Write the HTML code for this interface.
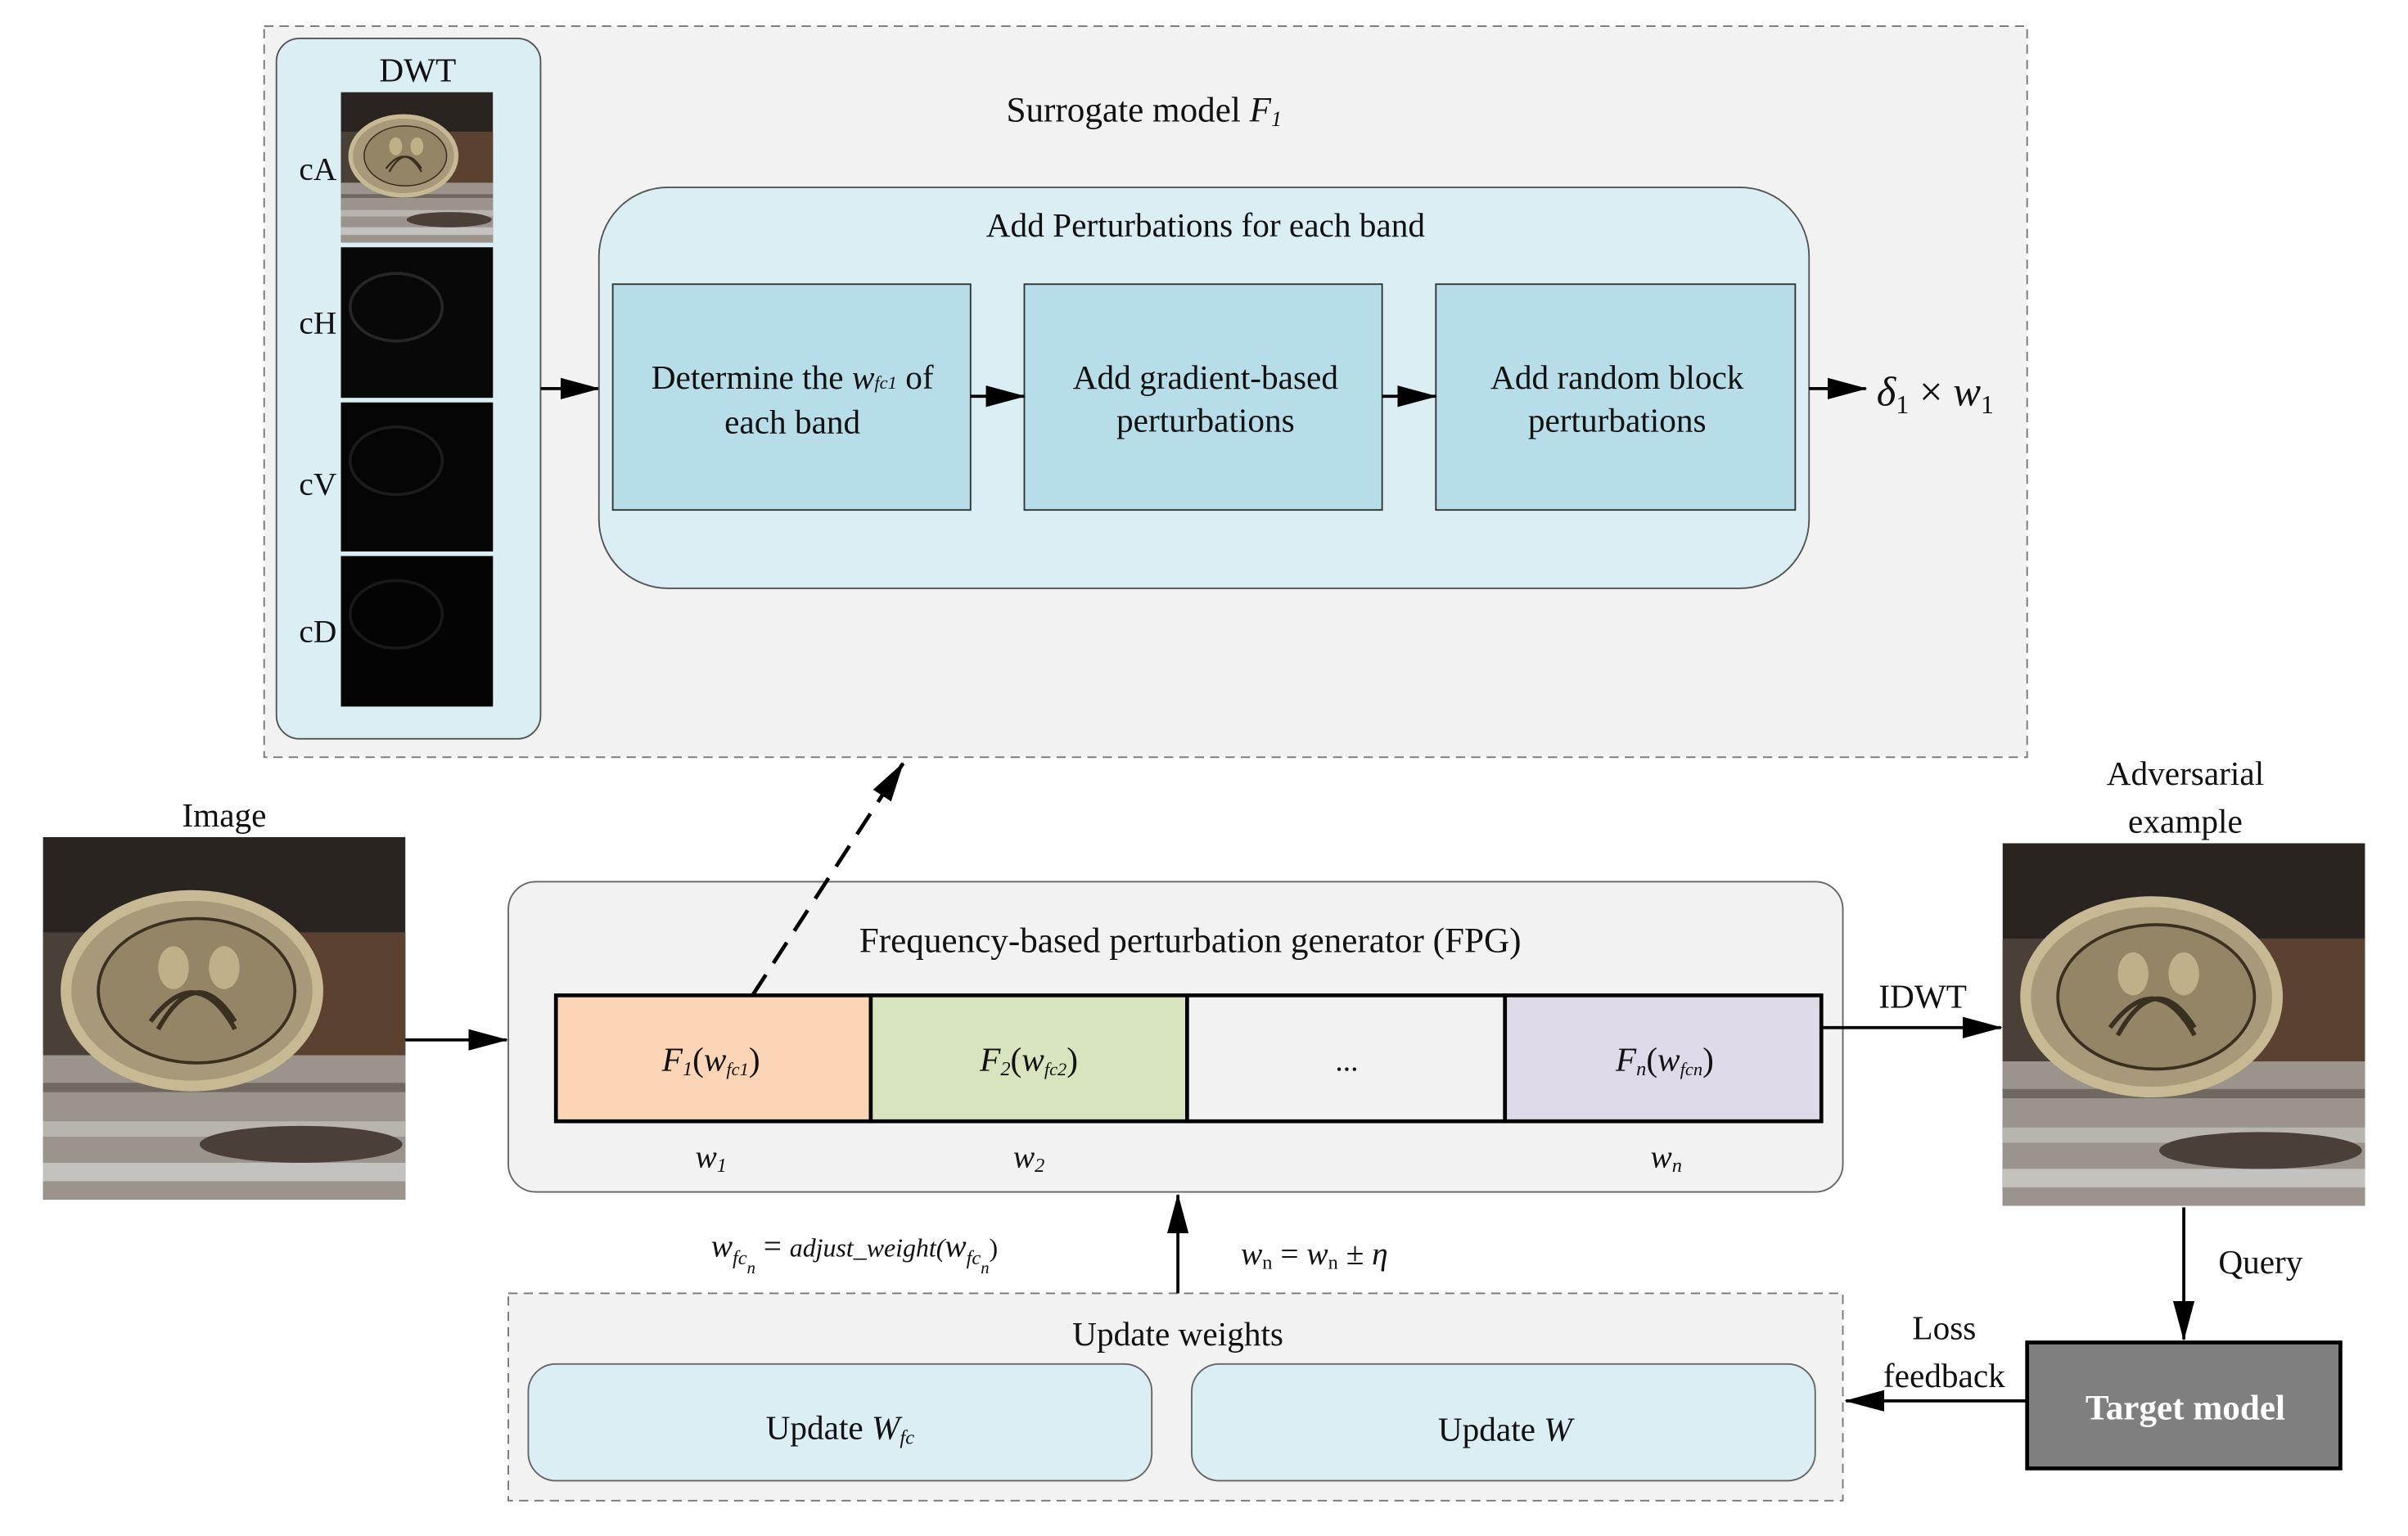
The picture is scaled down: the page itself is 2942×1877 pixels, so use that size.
<!DOCTYPE html>
<html><head><meta charset="utf-8"><style>
html,body{margin:0;padding:0;background:#fff}
svg{display:block}
text{font-family:"Liberation Serif",serif;fill:#111}
</style></head><body>
<svg width="2942" height="1877" viewBox="0 0 1568 1000" preserveAspectRatio="none" xmlns="http://www.w3.org/2000/svg">
<defs>
<marker id="ahb" markerWidth="26" markerHeight="14" refX="25" refY="7" orient="auto" markerUnits="userSpaceOnUse">
<path d="M0,0 L26,7 L0,14 Z" fill="#000"/></marker>
<clipPath id="pc"><rect x="0" y="0" width="236" height="236"/></clipPath>
<g id="photo" clip-path="url(#pc)">
<rect x="0" y="0" width="236" height="236" fill="#2a2420"/>
<rect x="0" y="62" width="236" height="80" fill="#4a4038"/>
<rect x="140" y="62" width="96" height="80" fill="#5a4130"/>
<rect x="0" y="142" width="236" height="94" fill="#9a948c"/>
<rect x="0" y="160" width="236" height="6" fill="#6e6860"/>
<rect x="0" y="185" width="236" height="10" fill="#b8b4ae"/>
<rect x="0" y="212" width="236" height="12" fill="#c4c2be"/>
<ellipse cx="168" cy="200" rx="66" ry="12" fill="#4a4038"/>
<ellipse cx="97" cy="100" rx="82" ry="62" fill="#a8997a" stroke="#c6b993" stroke-width="7"/>
<ellipse cx="100" cy="100" rx="64" ry="47" fill="#948566" stroke="#3a3020" stroke-width="2"/>
<path d="M70,120 Q100,80 125,125 M125,120 Q100,80 75,125" fill="none" stroke="#3a3020" stroke-width="3"/>
<ellipse cx="85" cy="85" rx="10" ry="14" fill="#c0b08a"/>
<ellipse cx="118" cy="85" rx="10" ry="14" fill="#c0b08a"/>
</g>
</defs>

<rect x="172" y="17" width="1148" height="476" fill="#f2f2f2" stroke="#777" stroke-dasharray="6,4"/>
<rect x="180" y="25" width="172" height="456" rx="15" fill="#daeef3" stroke="#555"/>
<text x="272" y="53" font-size="22" text-anchor="middle">DWT</text>
<g transform="translate(222,60) scale(0.4195,0.415)"><use href="#photo"/></g>
<rect x="222" y="161" width="99" height="98" fill="#080808"/>
<ellipse cx="258" cy="200" rx="30" ry="22" fill="none" stroke="#262626" stroke-width="2"/>
<rect x="222" y="262" width="99" height="97" fill="#050505"/>
<ellipse cx="258" cy="300" rx="30" ry="22" fill="none" stroke="#1c1c1c" stroke-width="2"/>
<rect x="222" y="362" width="99" height="98" fill="#040404"/>
<ellipse cx="258" cy="400" rx="30" ry="22" fill="none" stroke="#181818" stroke-width="2"/>
<text x="207" y="117" font-size="21" text-anchor="middle">cA</text>
<text x="207" y="217" font-size="21" text-anchor="middle">cH</text>
<text x="207" y="322" font-size="21" text-anchor="middle">cV</text>
<text x="207" y="418" font-size="21" text-anchor="middle">cD</text>
<text x="745" y="79" font-size="23" text-anchor="middle">Surrogate model <tspan font-style="italic">F</tspan><tspan font-style="italic" font-size="14" dy="3">1</tspan></text>
<line x1="352" y1="253" x2="390" y2="253" stroke="#000" stroke-width="2" marker-end="url(#ahb)"/>
<rect x="390" y="122" width="788" height="261" rx="45" fill="#daeef3" stroke="#555"/>
<text x="785" y="154" font-size="22" text-anchor="middle">Add Perturbations for each band</text>
<rect x="399" y="185" width="233" height="147" fill="#b7dde8" stroke="#333"/>
<rect x="667" y="185" width="233" height="147" fill="#b7dde8" stroke="#333"/>
<rect x="935" y="185" width="234" height="147" fill="#b7dde8" stroke="#333"/>
<text x="516" y="253" font-size="22" text-anchor="middle">Determine the <tspan font-style="italic">w</tspan><tspan font-style="italic" font-size="12">fc1</tspan> of</text>
<text x="516" y="282" font-size="22" text-anchor="middle">each band</text>
<text x="785" y="253" font-size="22" text-anchor="middle">Add gradient-based</text>
<text x="785" y="281" font-size="22" text-anchor="middle">perturbations</text>
<text x="1053" y="253" font-size="22" text-anchor="middle">Add random block</text>
<text x="1053" y="281" font-size="22" text-anchor="middle">perturbations</text>
<line x1="632" y1="258" x2="667" y2="258" stroke="#000" stroke-width="2" marker-end="url(#ahb)"/>
<line x1="900" y1="258" x2="935" y2="258" stroke="#000" stroke-width="2" marker-end="url(#ahb)"/>
<line x1="1178" y1="253" x2="1215" y2="253" stroke="#000" stroke-width="2" marker-end="url(#ahb)"/>
<text x="1222" y="264" font-size="27" font-style="italic">δ<tspan font-style="normal" font-size="17" dy="5">1</tspan><tspan dy="-5" font-style="normal"> × </tspan>w<tspan font-style="normal" font-size="17" dy="5">1</tspan></text>

<text x="146" y="538" font-size="22" text-anchor="middle">Image</text>
<g transform="translate(28,545)"><use href="#photo"/></g>
<line x1="264" y1="677" x2="330" y2="677" stroke="#000" stroke-width="2" marker-end="url(#ahb)"/>

<rect x="331" y="574" width="869" height="202" rx="18" fill="#f2f2f2" stroke="#666"/>
<text x="775" y="620" font-size="23" text-anchor="middle">Frequency-based perturbation generator (FPG)</text>
<rect x="362" y="648" width="205" height="82" fill="#fbd5b5" stroke="#000" stroke-width="2.5"/>
<rect x="567" y="648" width="206" height="82" fill="#d7e4bd" stroke="#000" stroke-width="2.5"/>
<rect x="773" y="648" width="207" height="82" fill="#f2f2f2" stroke="#000" stroke-width="2.5"/>
<rect x="980" y="648" width="206" height="82" fill="#dfdaea" stroke="#000" stroke-width="2.5"/>
<text x="463" y="697" font-size="22" text-anchor="middle" font-style="italic">F<tspan font-size="13" dy="3">1</tspan><tspan dy="-3" font-style="normal">(</tspan>w<tspan font-size="12" dy="3">fc1</tspan><tspan dy="-3" font-style="normal">)</tspan></text>
<text x="670" y="697" font-size="22" text-anchor="middle" font-style="italic">F<tspan font-size="13" dy="3">2</tspan><tspan dy="-3" font-style="normal">(</tspan>w<tspan font-size="12" dy="3">fc2</tspan><tspan dy="-3" font-style="normal">)</tspan></text>
<text x="877" y="697" font-size="20" text-anchor="middle">...</text>
<text x="1084" y="697" font-size="22" text-anchor="middle" font-style="italic">F<tspan font-size="13" dy="3">n</tspan><tspan dy="-3" font-style="normal">(</tspan>w<tspan font-size="12" dy="3">fcn</tspan><tspan dy="-3" font-style="normal">)</tspan></text>
<text x="463" y="760" font-size="21" font-style="italic" text-anchor="middle">w<tspan font-size="13" dy="3">1</tspan></text>
<text x="670" y="760" font-size="21" font-style="italic" text-anchor="middle">w<tspan font-size="13" dy="3">2</tspan></text>
<text x="1085" y="760" font-size="21" font-style="italic" text-anchor="middle">w<tspan font-size="13" dy="3">n</tspan></text>
<line x1="490" y1="648" x2="588" y2="497" stroke="#000" stroke-width="2.5" stroke-dasharray="16,9" marker-end="url(#ahb)"/>

<text x="1252" y="656" font-size="22" text-anchor="middle">IDWT</text>
<line x1="1186" y1="669" x2="1303" y2="669" stroke="#000" stroke-width="2" marker-end="url(#ahb)"/>
<text x="1423" y="511" font-size="22" text-anchor="middle">Adversarial</text>
<text x="1423" y="542" font-size="22" text-anchor="middle">example</text>
<g transform="translate(1304,549)"><use href="#photo"/></g>
<line x1="1422" y1="786" x2="1422" y2="872" stroke="#000" stroke-width="2" marker-end="url(#ahb)"/>
<text x="1472" y="829" font-size="22" text-anchor="middle">Query</text>
<rect x="1320" y="874" width="204" height="82" fill="#7f7f7f" stroke="#000" stroke-width="2.5"/>
<text x="1423" y="924" font-size="23" font-weight="bold" text-anchor="middle" style="fill:#fff">Target model</text>
<line x1="1320" y1="912" x2="1202" y2="912" stroke="#000" stroke-width="2" marker-end="url(#ahb)"/>
<text x="1266" y="872" font-size="22" text-anchor="middle">Loss</text>
<text x="1266" y="903" font-size="22" text-anchor="middle">feedback</text>

<rect x="331" y="842" width="869" height="135" fill="#f2f2f2" stroke="#777" stroke-dasharray="6,4"/>
<text x="767" y="876" font-size="22" text-anchor="middle">Update weights</text>
<rect x="344" y="888" width="406" height="76" rx="18" fill="#daeef3" stroke="#666"/>
<rect x="776" y="888" width="406" height="76" rx="18" fill="#daeef3" stroke="#666"/>
<text x="547" y="937" font-size="22" text-anchor="middle">Update <tspan font-style="italic">W</tspan><tspan font-style="italic" font-size="13" dy="3">fc</tspan></text>
<text x="980" y="938" font-size="22" text-anchor="middle">Update <tspan font-style="italic">W</tspan></text>
<line x1="767" y1="842" x2="767" y2="778" stroke="#000" stroke-width="2" marker-end="url(#ahb)"/>
<text x="463" y="818" font-size="21" font-style="italic">w<tspan font-size="13" dy="5">fc</tspan><tspan font-size="11" dy="6">n</tspan><tspan dy="-11" font-style="normal"> = </tspan><tspan font-size="17">adjust_weight(</tspan>w<tspan font-size="13" dy="5">fc</tspan><tspan font-size="11" dy="6">n</tspan><tspan dy="-11" font-style="normal" font-size="17">)</tspan></text>
<text x="808" y="823" font-size="21" font-style="italic">w<tspan font-style="normal" font-size="13" dy="3">n</tspan><tspan dy="-3" font-style="normal"> = </tspan>w<tspan font-style="normal" font-size="13" dy="3">n</tspan><tspan dy="-3" font-style="normal"> ± </tspan>η</text>
</svg>
</body></html>
